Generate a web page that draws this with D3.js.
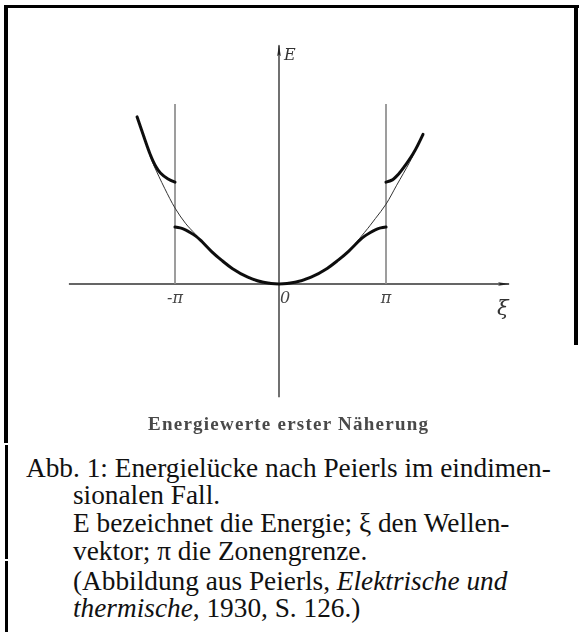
<!DOCTYPE html>
<html>
<head>
<meta charset="utf-8">
<script src="https://cdn.jsdelivr.net/npm/d3@7"></script>
<style>
  html, body { margin: 0; padding: 0; background: #fff; }
  svg { display: block; }
</style>
</head>
<body>
<script>
// ξ in units of π (zone boundary at ±1), E in units of the free-electron energy at ξ = π
const xiTicks = [-1, 0, 1];
const xiTickLabels = ["-π", "0", "π"];

// free-electron parabola (thin line)
const freeXi = [-1.24, -1.2, -1.1, -1.0, -0.9, -0.8, -0.6, -0.4, -0.2, 0, 0.2, 0.4, 0.6, 0.8, 0.9, 1.0, 1.1, 1.22, 1.26];
const freeE  = [1.68, 1.55, 1.26, 1.0, 0.80, 0.65, 0.36, 0.16, 0.04, 0, 0.04, 0.16, 0.36, 0.68, 0.86, 1.05, 1.30, 1.60, 1.71];

// lower band inside the first zone (bold)
const lowerXi = [-1.0, -0.95, -0.9, -0.85, -0.8, -0.75, -0.65, -0.55, -0.45, -0.3, -0.15, 0,
                 0.15, 0.3, 0.45, 0.55, 0.65, 0.75, 0.8, 0.85, 0.9, 0.95, 1.0];
const lowerE  = [0.75, 0.738, 0.712, 0.675, 0.63, 0.57, 0.43, 0.31, 0.205, 0.09, 0.022, 0,
                 0.022, 0.09, 0.205, 0.31, 0.43, 0.57, 0.63, 0.675, 0.712, 0.738, 0.75];

// upper band outside the zone (bold), left and right branch
const upperLeftXi  = [-1.365, -1.3, -1.24, -1.19, -1.14, -1.07, -1.0];
const upperLeftE   = [2.20, 1.94, 1.71, 1.56, 1.46, 1.385, 1.34];
const upperRightXi = [1.0, 1.06, 1.12, 1.18, 1.26, 1.346];
const upperRightE  = [1.34, 1.37, 1.45, 1.56, 1.73, 1.97];

// zone boundary lines
const boundaryXi = [-1, 1];
const boundaryTopE = 2.37;

// axis extents
const xiAxisRange = [-2.02, 2.15];
const eAxisRange = [-1.49, 3.14];

const figureTitle = "Energiewerte erster Näherung";
const captionLines = [
  [{t: "Abb. 1: Energielücke nach Peierls im eindimen-"}],
  [{t: "sionalen Fall."}],
  [{t: "E bezeichnet die Energie; ξ den Wellen-"}],
  [{t: "vektor; π die Zonengrenze."}],
  [{t: "(Abbildung aus Peierls, "}, {t: "Elektrische und", i: true}],
  [{t: "thermische", i: true}, {t: ", 1930, S. 126.)"}]
];

const W = 579, H = 632;
const svg = d3.select("body").append("svg").attr("width", W).attr("height", H);

const defs = svg.append("defs");
defs.append("filter").attr("id", "soft")
  .append("feGaussianBlur").attr("stdDeviation", 0.45);

const x = d3.scaleLinear().domain([-1, 0, 1]).range([175, 279, 386]);
const y = d3.scaleLinear().domain([0, 1]).range([284, 208]);

// frame
const frame = svg.append("g").attr("fill", "#000");
frame.append("rect").attr("x", 5).attr("y", 5).attr("width", W - 5).attr("height", 3);
frame.append("rect").attr("x", W - 5).attr("y", 5).attr("width", 4).attr("height", 340);
frame.append("rect").attr("x", 4).attr("y", 5).attr("width", 4).attr("height", 438);
frame.append("rect").attr("x", 5).attr("y", 445).attr("width", 3).attr("height", 114);
frame.append("rect").attr("x", 5).attr("y", 561).attr("width", 3).attr("height", H - 561);

const fig = svg.append("g").attr("filter", "url(#soft)");

// arrow marker
defs.append("marker").attr("id", "arrow")
  .attr("viewBox", "0 0 12 6").attr("refX", 11).attr("refY", 3)
  .attr("markerWidth", 12).attr("markerHeight", 6).attr("markerUnits", "userSpaceOnUse")
  .attr("orient", "auto")
  .append("path").attr("d", "M0,1.2 L12,3 L0,4.8 L2,3 Z").attr("fill", "#222");

// axes
fig.append("line")
  .attr("x1", x(xiAxisRange[0])).attr("x2", x(xiAxisRange[1]))
  .attr("y1", y(0)).attr("y2", y(0))
  .attr("stroke", "#333").attr("stroke-width", 1.4)
  .attr("marker-end", "url(#arrow)");
fig.append("line")
  .attr("x1", x(0)).attr("x2", x(0))
  .attr("y1", y(eAxisRange[0])).attr("y2", y(eAxisRange[1]))
  .attr("stroke", "#333").attr("stroke-width", 1.4)
  .attr("marker-end", "url(#arrow)");

// zone boundaries
fig.selectAll("line.boundary").data(boundaryXi).join("line")
  .attr("class", "boundary")
  .attr("x1", d => x(d)).attr("x2", d => x(d))
  .attr("y1", y(0)).attr("y2", y(boundaryTopE))
  .attr("stroke", "#8c8c8c").attr("stroke-width", 1.7);

const line = d3.line().x(d => x(d[0])).y(d => y(d[1])).curve(d3.curveCatmullRom.alpha(0.5));
const zip = (a, b) => a.map((v, i) => [v, b[i]]);

fig.append("path").attr("d", line(zip(freeXi, freeE)))
  .attr("fill", "none").attr("stroke", "#333").attr("stroke-width", 1);

[[lowerXi, lowerE], [upperLeftXi, upperLeftE], [upperRightXi, upperRightE]].forEach(([a, b]) => {
  fig.append("path").attr("d", line(zip(a, b)))
    .attr("fill", "none").attr("stroke", "#111").attr("stroke-width", 3)
    .attr("stroke-linecap", "round");
});

// tick labels and axis names
const lblFont = "DejaVu Serif";
fig.selectAll("text.tick").data(xiTicks).join("text")
  .attr("class", "tick")
  .attr("x", d => x(d) + (d === 0 ? 6 : 0))
  .attr("y", y(0) + 19)
  .attr("text-anchor", "middle")
  .attr("font-family", lblFont).attr("font-style", "italic")
  .attr("font-size", 16).attr("fill", "#444")
  .text((d, i) => xiTickLabels[i]);

fig.append("text").attr("x", x(0) + 5).attr("y", y(eAxisRange[1]) + 15)
  .attr("font-family", lblFont).attr("font-style", "italic")
  .attr("font-size", 16).attr("fill", "#333").text("E");

fig.append("text").attr("x", x(xiAxisRange[1]) - 12).attr("y", y(0) + 31)
  .attr("font-family", lblFont).attr("font-style", "italic")
  .attr("font-size", 21).attr("fill", "#333").text("ξ");

// figure title
fig.append("text").attr("x", 148).attr("y", 430)
  .attr("font-family", "Liberation Serif").attr("font-weight", "bold")
  .attr("font-size", 19).attr("fill", "#4a4a4a")
  .attr("textLength", 280).attr("lengthAdjust", "spacing")
  .text(figureTitle);

// caption
const capFont = "Liberation Serif";
const capX = [26, 73, 73, 73, 73, 73];
const capY = [477, 504, 532, 560, 590, 617];
const cap = svg.append("g").attr("font-family", capFont).attr("fill", "#111");

// size the caption so its first line spans the text column
const probe = cap.append("text").attr("font-size", 20).text(captionLines[0][0].t);
const w20 = probe.node().getComputedTextLength();
probe.remove();
const capSize = 20 * 525 / w20;

captionLines.forEach((parts, i) => {
  const t = cap.append("text").attr("x", capX[i]).attr("y", capY[i]).attr("font-size", capSize);
  parts.forEach(p => {
    t.append("tspan").attr("font-style", p.i ? "italic" : null).text(p.t);
  });
});
</script>
</body>
</html>
